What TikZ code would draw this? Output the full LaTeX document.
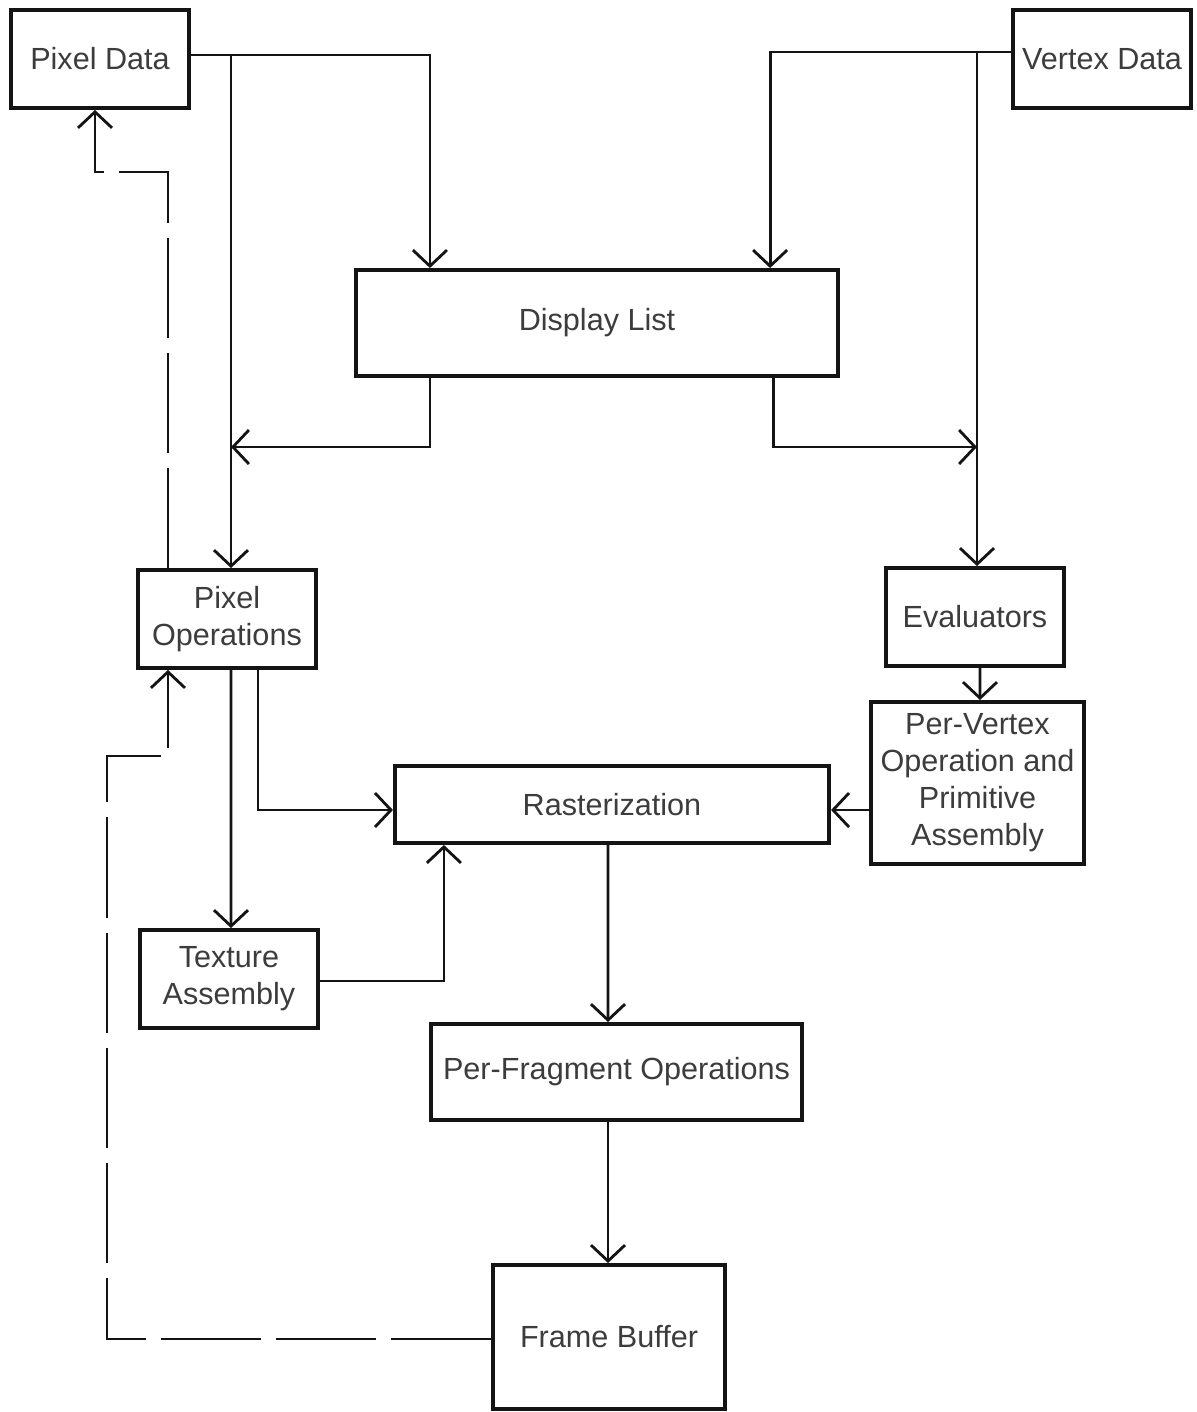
\documentclass[tikz,border=0pt]{standalone}
\usepackage{fontspec}
\setmainfont{Liberation Sans}
\usepackage{xcolor}
\usepackage{tikz}
\usetikzlibrary{arrows.meta, positioning, calc}
\definecolor{mydark}{RGB}{20,20,20}
\definecolor{mytext}{RGB}{60,60,60}
\tikzset{
  block/.style={rectangle, draw=mydark, fill=white, align=center,
    inner sep=0pt, text=mytext, font=\fontsize{8.7}{10.5}\selectfont,
    line width=1.1pt},
  arrow/.style={-{Straight Barb[length=1.6mm, width=3.4mm]}, line width=0.8pt, color=mydark},
  link/.style={line width=0.8pt, color=mydark},
  dasharrow/.style={arrow, dash pattern=on 1.0cm off 0.15cm}
}
\begin{document}
\begin{tikzpicture}[x=0.01cm, y=-0.01cm]
  \useasboundingbox (0,0) rectangle (1196,1412);

  % Sources at the top corners
  \node[block, minimum width=1.78cm, minimum height=0.98cm] (pixdata) at (100, 59) {Pixel Data};
  \node[block, minimum width=1.78cm, minimum height=0.98cm] (vertdata) at (1102, 59) {Vertex Data};

  % Display list in the middle
  \node[block, minimum width=4.82cm, minimum height=1.06cm] (displist) at (597, 323) {Display List};

  % Pixel path (left)
  \node[block, minimum width=1.78cm, minimum height=0.98cm] (pixops) at (227, 619) {Pixel\\Operations};
  \node[block, minimum width=1.78cm, minimum height=0.98cm] (texasm) at (229, 979) {Texture\\Assembly};

  % Vertex path (right)
  \node[block, minimum width=1.78cm, minimum height=0.98cm] (evals) at (975, 617) {Evaluators};
  \node[block, minimum width=2.13cm, minimum height=1.62cm] (pervert) at (977.5, 783) {Per-Vertex\\Operation and\\Primitive\\Assembly};

  % Common path (centre)
  \node[block, minimum width=4.34cm, minimum height=0.77cm] (raster) at (612, 804.5) {Rasterization};
  \node[block, minimum width=3.71cm, minimum height=0.96cm] (perfrag) at (616.5, 1072) {Per-Fragment Operations};
  \node[block, minimum width=2.32cm, minimum height=1.44cm] (framebuf) at (609, 1337) {Frame Buffer};

  % Junctions and bends
  \coordinate (pixjoin) at (231, 447);
  \coordinate (vtxjoin) at (977, 447);
  \coordinate (fbcorner) at (107, 756);
  \coordinate (pdcorner) at (95, 172);

  % Pixel data feeds
  \draw[arrow] ([yshift=.04cm]pixdata.east) -| ([xshift=-1.67cm]displist.north);
  \draw[arrow] ([yshift=.04cm]pixdata.east) -| ([xshift=.04cm]pixops.north);
  \draw[arrow] ([xshift=-1.67cm]displist.south) |- (pixjoin);

  % Vertex data feeds
  \draw[arrow] ([yshift=.07cm]vertdata.west) -| ([xshift=1.73cm]displist.north);
  \draw[arrow] ([yshift=.07cm]vertdata.west) -| ([xshift=.02cm]evals.north);
  \draw[arrow] ([xshift=1.76cm]displist.south) |- (vtxjoin);
  \draw[arrow] ([xshift=.05cm]evals.south) -- ([xshift=.025cm]pervert.north);
  \draw[arrow] ([yshift=-.27cm]pervert.west) -- ([yshift=-.27cm]pervert.west -| raster.east);

  % Pixel operations to rasterization
  \draw[arrow] ([xshift=.31cm]pixops.south) |- ([yshift=-.055cm]raster.west);
  \draw[arrow] ([xshift=.04cm]pixops.south) -- ([xshift=.02cm]texasm.north);
  \draw[arrow] ([yshift=-.02cm]texasm.east) -| ([xshift=-1.68cm]raster.south);

  % Fragments down to the frame buffer
  \draw[arrow] ([xshift=-.04cm]raster.south) -- ([xshift=-.085cm]perfrag.north);
  \draw[arrow] ([xshift=-.085cm]perfrag.south) -- ([xshift=-.085cm]perfrag.south |- framebuf.north);

  % Read-back paths (dashed)
  \draw[dasharrow] ([yshift=-.02cm]framebuf.west) -| (fbcorner) -| ([xshift=-.59cm]pixops.south);
  \draw[dasharrow] ([xshift=-.59cm]pixops.north) |- (pdcorner) -- (pdcorner |- pixdata.south);
\end{tikzpicture}
\end{document}
